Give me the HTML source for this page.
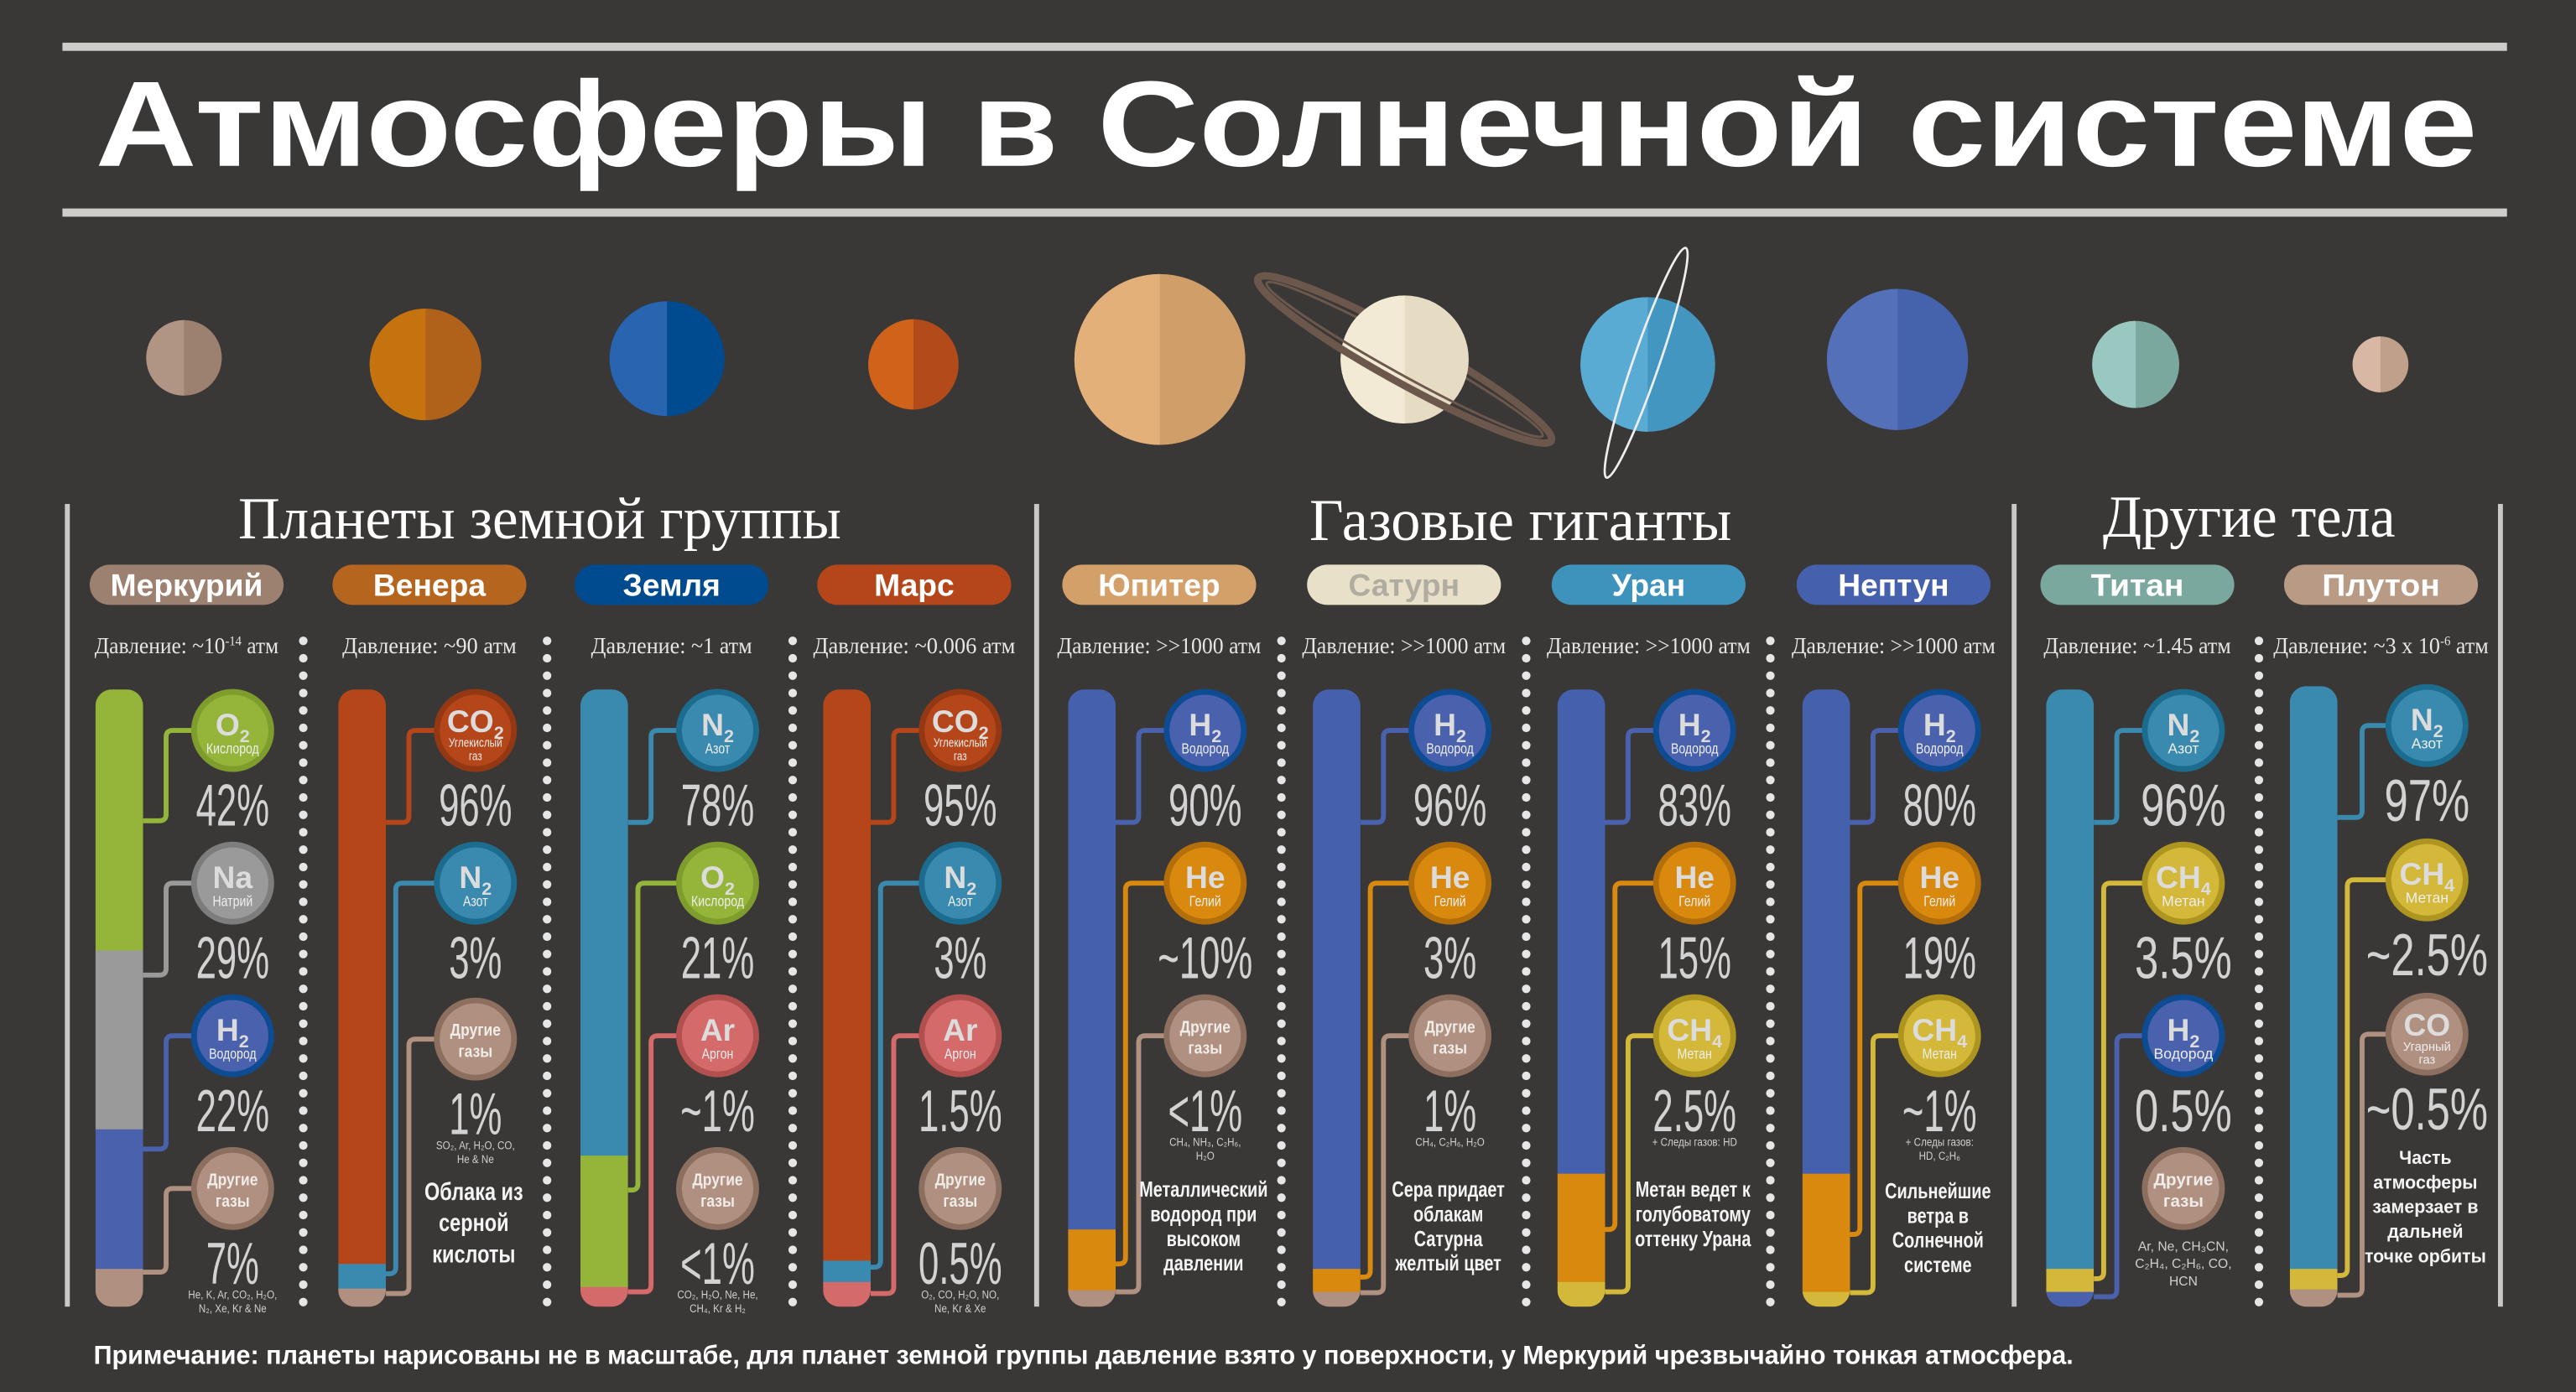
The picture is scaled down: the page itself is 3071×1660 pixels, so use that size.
<!DOCTYPE html>
<html><head><meta charset="utf-8"><style>
html,body{margin:0;padding:0;background:#3a3836;}
svg{display:block}
</style></head><body>
<svg id="s" xmlns="http://www.w3.org/2000/svg" width="3071" height="1660" viewBox="0 0 1568 848" preserveAspectRatio="none"></svg>
<script>
const O=[];
const P=(s)=>O.push(s);
P('<rect width="1568" height="848" fill="#3a3836"/>');
P('<rect x="38" y="26" width="1488" height="5" fill="#cfcdca"/>');
P('<rect x="38" y="127" width="1488" height="5" fill="#cfcdca"/>');
P('<text x="58" y="101" font-family="Liberation Sans, sans-serif" font-weight="bold" font-size="74" fill="#fff" textLength="1450" lengthAdjust="spacingAndGlyphs">Атмосферы в Солнечной системе</text>');
const PL=[[112,218,23,'#b09484','#9c8070'],[259,222,34,'#c4730f','#b0621a'],[406,218.5,35,'#2864b0','#004a8f'],[556,222,27.5,'#d0621a','#b34a1a'],[706,219,52,'#e4b07a','#d09e68'],[855,219,39,'#f2ead4','#e6dcc4'],[1003,222,41,'#5aabd4','#4396c0'],[1155,219,43,'#5470b8','#4562ac'],[1300,222,26.5,'#98c8c0','#7aa89e'],[1449,222,17,'#d8b8a4','#c0a08a']];
function planet(p){const[cx,cy,r,l,d]=p;P(`<circle cx="${cx}" cy="${cy}" r="${r}" fill="${d}"/><path d="M${cx},${cy-r} A${r},${r} 0 0 0 ${cx},${cy+r} Z" fill="${l}"/>`);}
const RING='<ellipse cx="855" cy="219" rx="102" ry="14" fill="none" stroke="#6b574c" stroke-width="4.5"/><ellipse cx="855" cy="219" rx="96" ry="9" fill="none" stroke="#6b574c" stroke-width="1.5"/>';
PL.forEach((p,i)=>{
 if(i==5){P('<g transform="rotate(29 855 219)">'+RING+'</g>');}
 planet(p);
 if(i==5){P('<defs><clipPath id="fr"><rect x="700" y="219" width="320" height="60"/></clipPath></defs><g transform="rotate(29 855 219)"><g clip-path="url(#fr)">'+RING+'</g></g>');}
 if(i==6){P('<ellipse cx="1002" cy="221" rx="8" ry="74" fill="none" stroke="#eee" stroke-width="1.4" transform="rotate(19 1002 221)"/>');}
});
[41,631,1226,1522].forEach(x=>P(`<rect x="${x-1.5}" y="307" width="3" height="489" fill="#c8c8c8"/>`));
const ser='Liberation Serif, serif';
P(`<text x="145" y="328" font-family="${ser}" font-size="36" fill="#fff" textLength="367" lengthAdjust="spacingAndGlyphs">Планеты земной группы</text>`);
P(`<text x="797" y="329" font-family="${ser}" font-size="36" fill="#fff" textLength="257" lengthAdjust="spacingAndGlyphs">Газовые гиганты</text>`);
P(`<text x="1280" y="327" font-family="${ser}" font-size="36" fill="#fff" textLength="178" lengthAdjust="spacingAndGlyphs">Другие тела</text>`);
[184.6,333,482.5,780,929,1077.6,1375].forEach(x=>{for(let y=390.4;y<=794;y+=10.6)P(`<circle cx="${x}" cy="${y.toFixed(1)}" r="2.6" fill="#e6e6e6"/>`);});
const SF='Liberation Sans, sans-serif';
function T(x,y,s,size,o={}){const sx=o.sx||1;const w=o.bold?'bold':'normal';const f=o.fill||'#eee';
 return `<text transform="translate(${x},${y}) scale(${sx},1)" text-anchor="${o.anchor||'middle'}" font-family="${SF}" font-weight="${w}" font-size="${size}" fill="${f}">${s}</text>`;}
const G={
O2:{s:'O',b:'2',n:['Кислород'],f:'#94b53a',r:'#7e9d2c'},
Na:{s:'Na',b:'',n:['Натрий'],f:'#9a9a9a',r:'#7d7d7d'},
H2:{s:'H',b:'2',n:['Водород'],f:'#4a62ae',r:'#0d4b93'},
OT:{s:'',b:'',n:[],f:'#b09080',r:'#8d6f5f',ot:1},
CO2:{s:'CO',b:'2',n:['Углекислый','газ'],f:'#b5461a',r:'#933813'},
N2:{s:'N',b:'2',n:['Азот'],f:'#3a8ab0',r:'#1b6c8f'},
Ar:{s:'Ar',b:'',n:['Аргон'],f:'#d46a6a',r:'#b24f4f'},
He:{s:'He',b:'',n:['Гелий'],f:'#d98a0e',r:'#b46f0b'},
CH4:{s:'CH',b:'4',n:['Метан'],f:'#d4b83a',r:'#ae9520'},
CO:{s:'CO',b:'',n:['Угарный','газ'],f:'#b09080',r:'#8d6f5f'}};
const BL='#4560ad',OR='#d98a0e',TN='#b09080',YE='#d4b83a',RD='#b5461a',CY='#3a8ab0',GR='#94b53a',PK='#d46a6a';
const C=[
{c:113.6,nm:'Меркурий',pf:'#9c8070',pr:'Давление: ~10<tspan font-size="8" dy="-5">-14</tspan><tspan dy="5"> атм</tspan>',pw:112,
 seg:[[GR,420,579],['#9a9a9a',579,688],['#4a62ae',688,773],[TN,773,796]],
 it:[['O2',445,500,14,'42%'],['Na',538,594,14,'29%'],['H2',631,700,14,'22%'],['OT',724,775,14,'7%',['He, K, Ar, CO₂, H₂O,','N₂, Xe, Kr &amp; Ne']]]},
{c:261.4,nm:'Венера',pf:'#b5651d',pr:'Давление: ~90 атм',pw:106,
 seg:[[RD,420,770],[CY,770,785],[TN,785,796]],
 it:[['CO2',445,501,14,'96%'],['N2',538,776,6,'3%'],['OT',633,788,14,'1%',['SO₂, Ar, H₂O, CO,','He &amp; Ne']]],
 d:['Облака из','серной','кислоты'],dy:731,ds:19,df:15,dsx:0.8},
{c:408.8,nm:'Земля',pf:'#004a8f',pr:'Давление: ~1 атм',pw:98,
 seg:[[CY,420,704],[GR,704,784],[PK,784,796]],
 it:[['N2',445,501,14,'78%'],['O2',538,725,6,'21%'],['Ar',631,787,14,'~1%'],['OT',724,null,0,'&lt;1%',['CO₂, H₂O, Ne, He,','CH₄, Kr &amp; H₂']]]},
{c:556.5,nm:'Марс',pf:'#b5461a',pr:'Давление: ~0.006 атм',pw:123,
 seg:[[RD,420,768],[CY,768,781],[PK,781,796]],
 it:[['CO2',445,501,14,'95%'],['N2',538,772,6,'3%'],['Ar',631,788,14,'1.5%'],['OT',724,null,0,'0.5%',['O₂, CO, H₂O, NO,','Ne, Kr &amp; Xe']]]},
{c:705.6,nm:'Юпитер',pf:'#d4a06a',pr:'Давление: &gt;&gt;1000 атм',pw:124,
 seg:[[BL,420,749],[OR,749,786],[TN,786,796]],
 it:[['H2',445,501,14,'90%'],['He',538,770,6,'~10%'],['OT',631,787,14,'&lt;1%',['CH₄, NH₃, C₂H₆,','H₂O']]],
 d:['Металлический','водород при','высоком','давлении'],dy:729,ds:15,df:13,dsx:0.78},
{c:854.6,nm:'Сатурн',pf:'#e8e0c8',pt:'#b0aca0',pr:'Давление: &gt;&gt;1000 атм',pw:124,
 seg:[[BL,420,773],[OR,773,787],[TN,787,796]],
 it:[['H2',445,501,14,'96%'],['He',538,778,6,'3%'],['OT',631,787.5,14,'1%',['CH₄, C₂H₆, H₂O']]],
 d:['Сера придает','облакам','Сатурна','желтый цвет'],dy:729,ds:15,df:13,dsx:0.78},
{c:1003.5,nm:'Уран',pf:'#3e93bc',pr:'Давление: &gt;&gt;1000 атм',pw:124,
 seg:[[BL,420,715],[OR,715,781],[YE,781,796]],
 it:[['H2',445,501,14,'83%'],['He',538,749,6,'15%'],['CH4',631,787,14,'2.5%',['+ Следы газов: HD']]],
 d:['Метан ведет к','голубоватому','оттенку Урана'],dy:729,ds:15,df:13,dsx:0.78},
{c:1152.6,nm:'Нептун',pf:'#4560ad',pr:'Давление: &gt;&gt;1000 атм',pw:124,
 seg:[[BL,420,715],[OR,715,787],[YE,787,796]],
 it:[['H2',445,501,14,'80%'],['He',538,752,6,'19%'],['CH4',631,787.5,14,'~1%',['+ Следы газов:','HD, C₂H₆']]],
 d:['Сильнейшие','ветра в','Солнечной','системе'],dy:730,ds:15,df:13,dsx:0.78},
{c:1301,nm:'Титан',pf:'#7aa89e',pr:'Давление: ~1.45 атм',pw:114,wide:1,
 seg:[[CY,420,773],[YE,773,787],['#4a62ae',787,796]],
 it:[['N2',445,501,14,'96%'],['CH4',538,779,6,'3.5%'],['H2',631,790,14,'0.5%'],['OT',724,null,0,'',['Ar, Ne, CH₃CN,','C₂H₄, C₂H₆, CO,','HCN'],38]]},
{c:1449.3,nm:'Плутон',pf:'#b89a85',pr:'Давление: ~3 x 10<tspan font-size="8" dy="-5">-6</tspan><tspan dy="5"> атм</tspan>',pw:131,wide:1,
 seg:[[CY,418,773],[YE,773,785.5],[TN,785.5,796]],
 it:[['N2',442,498,15,'97%'],['CH4',536,777,6,'~2.5%'],['CO',630,789,15,'~0.5%']],
 d:['Часть','атмосферы','замерзает в','дальней','точке орбиты'],dy:709,ds:15,df:11.5,dsx:0.95}
];
C.forEach((k,ci)=>{
 const c=k.c;
 P(`<rect x="${c-59}" y="344" width="118" height="24.5" rx="12.2" fill="${k.pf}"/>`);
 P(T(c,363,k.nm,19,{bold:1,fill:k.pt||'#fff',sx:k.wide?1.05:1}));
 P(`<text x="${c}" y="398" text-anchor="middle" font-family="${ser}" font-size="14" fill="#e6e6e6" textLength="${k.pw}" lengthAdjust="spacingAndGlyphs">${k.pr}</text>`);
 const bx=c-55.5,bw=29,br=bx+bw;
 P(`<defs><clipPath id="b${ci}"><rect x="${bx}" y="${k.seg[0][1]}" width="${bw}" height="${796-k.seg[0][1]}" rx="10"/></clipPath></defs><g clip-path="url(#b${ci})">`);
 k.seg.forEach(s=>P(`<rect x="${bx}" y="${s[1]}" width="${bw}" height="${s[2]-s[1]+0.5}" fill="${s[0]}"/>`));
 P('</g>');
 const cx=c+28;
 k.it.forEach(it=>{
  const g=G[it[0]],cy=it[1],j=it[2];
  if(j!=null){const vx=br+it[3];
   P(`<path d="M${br},${j} H${vx-4} Q${vx},${j} ${vx},${j-4} V${cy+4} Q${vx},${cy} ${vx+4},${cy} H${cx-20}" fill="none" stroke="${g.f}" stroke-width="3"/>`);}
  P(`<circle cx="${cx}" cy="${cy}" r="23.5" fill="${g.f}" stroke="${g.r}" stroke-width="3.5"/>`);
  const nsx=k.wide?1:0.8;
  if(g.ot){P(T(cx,cy-2,'Другие',10.5,{bold:1,sx:k.wide?1:0.85,fill:'#f0ece8'}));P(T(cx,cy+11,'газы',10.5,{bold:1,sx:k.wide?1:0.85,fill:'#f0ece8'}));}
  else{
   const two=g.n.length>1;
   const sy=two?cy+1:cy+3;
   P(`<text x="${cx}" y="${sy}" text-anchor="middle" font-family="${SF}" font-weight="bold" font-size="19" fill="#dcdcdc">${g.s}${g.b?`<tspan font-size="11" dy="4">${g.b}</tspan>`:''}</text>`);
   if(two){P(T(cx,cy+10,g.n[0],7.5,{sx:nsx}));P(T(cx,cy+18,g.n[1],7.5,{sx:nsx}));}
   else P(T(cx,cy+14,g.n[0],9,{sx:nsx}));
  }
  if(it[4])P(T(cx,cy+58,it[4],36,{sx:k.wide?0.72:0.62,fill:'#d2d2d2'}));
  if(it[5]){const off=it[6]||67;it[5].forEach((l,i)=>P(T(cx,cy+off+i*(it[6]?10.5:8.5),l,k.wide?8:7,{sx:k.wide?1:0.85,fill:'#cfcfcf'})));}
 });
 if(k.d)k.d.forEach((l,i)=>P(T(cx-1,k.dy+i*k.ds,l,k.df,{bold:1,sx:k.dsx,fill:'#f4f4f4'})));
});
P(`<text x="57" y="831" font-family="${SF}" font-weight="bold" font-size="16" fill="#fff" textLength="1205" lengthAdjust="spacingAndGlyphs">Примечание: планеты нарисованы не в масштабе, для планет земной группы давление взято у поверхности, у Меркурий чрезвычайно тонкая атмосфера.</text>`);
document.getElementById('s').innerHTML=O.join('');
</script>
</body></html>
